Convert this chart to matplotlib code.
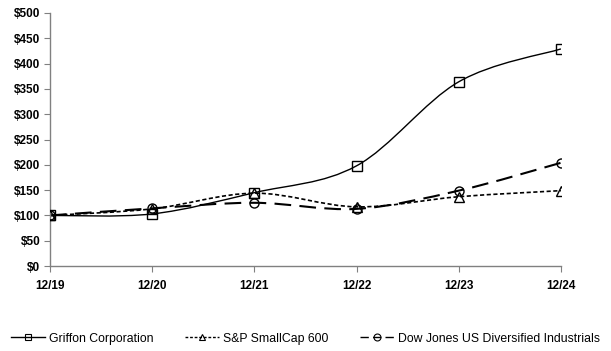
import numpy as np
import matplotlib
matplotlib.use("Agg")
import matplotlib.pyplot as plt
from matplotlib.path import Path
from matplotlib.patches import PathPatch
from matplotlib.lines import Line2D

years = ["12/19", "12/20", "12/21", "12/22", "12/23", "12/24"]
griffon = [100, 103, 145, 198, 364, 429]
sp600 = [100, 113, 144, 117, 137, 149]
dowjones = [100, 114, 125, 113, 149, 204]

plt.rcParams["font.family"] = ["Liberation Sans", "DejaVu Sans"]

fig = plt.figure(figsize=(6.11, 3.51), dpi=100)
ax = fig.add_axes([0.0818, 0.242, 0.918 - 0.0818, 0.963 - 0.242])

x = np.arange(len(years))


# smoothed line like Excel's, built as bezier segments through the data points
def smooth_path(xs, ys, t=1 / 6):
    xs = np.asarray(xs, float)
    ys = np.asarray(ys, float)
    verts = [(xs[0], ys[0])]
    codes = [Path.MOVETO]
    n = len(xs)
    for i in range(n - 1):
        p0 = (xs[max(i - 1, 0)], ys[max(i - 1, 0)])
        p1 = (xs[i], ys[i])
        p2 = (xs[i + 1], ys[i + 1])
        p3 = (xs[min(i + 2, n - 1)], ys[min(i + 2, n - 1)])
        c1 = (p1[0] + (p2[0] - p0[0]) * t, p1[1] + (p2[1] - p0[1]) * t)
        c2 = (p2[0] - (p3[0] - p1[0]) * t, p2[1] - (p3[1] - p1[1]) * t)
        verts += [c1, c2, p2]
        codes += [Path.CURVE4] * 3
    return Path(verts, codes)


# values, label, marker, line style, width, legend line style
series = [
    (griffon, "Griffon Corporation", "s", "-", 1.0, "-"),
    (sp600, "S&P SmallCap 600", "^", (0, (2.5, 1.5)), 1.2, (0, (2, 1.3))),
    (dowjones, "Dow Jones US Diversified Industrials", "o", (0, (8, 4)), 1.5, (0, (6, 3))),
]

handles = []
for vals, label, mk, ls, lw, lls in series:
    patch = PathPatch(smooth_path(x, vals), facecolor="none", edgecolor="black",
                      linestyle=ls, linewidth=lw, zorder=2)
    ax.add_patch(patch)
    ax.plot(x, vals, linestyle="none", marker=mk, markersize=6.5,
            markerfacecolor="none", markeredgecolor="black",
            markeredgewidth=1.0, zorder=3)
    handles.append(Line2D([], [], color="black", linestyle=lls, linewidth=1.0,
                          marker=mk, markersize=5, markerfacecolor="none",
                          markeredgewidth=0.8, label=label))

ax.set_xlim(0, len(years) - 1)
ax.set_ylim(0, 500)
ax.set_xticks(x)
ax.set_xticklabels(years, fontweight="bold", fontsize=8.5)
ax.set_yticks(np.arange(0, 501, 50))
ax.set_yticklabels(["$%d" % v for v in range(0, 501, 50)], fontweight="bold", fontsize=8.5)

for side in ["top", "right"]:
    ax.spines[side].set_visible(False)
for side in ["left", "bottom"]:
    ax.spines[side].set_color("#808080")
    ax.spines[side].set_linewidth(1.0)
ax.tick_params(axis="both", direction="out", length=4, color="#808080", pad=3)
ax.tick_params(axis="x", pad=6)
ax.margins(0)
for lbl in ax.get_xticklabels() + ax.get_yticklabels():
    lbl.set_clip_on(False)

fig.legend(handles=handles, loc="center", bbox_to_anchor=(0.5, 0.035), ncol=3,
           frameon=False, fontsize=8.8, handlelength=2.8, handletextpad=0.3,
           columnspacing=2.6, borderpad=0.2)

fig.savefig("out.png", dpi=100)
